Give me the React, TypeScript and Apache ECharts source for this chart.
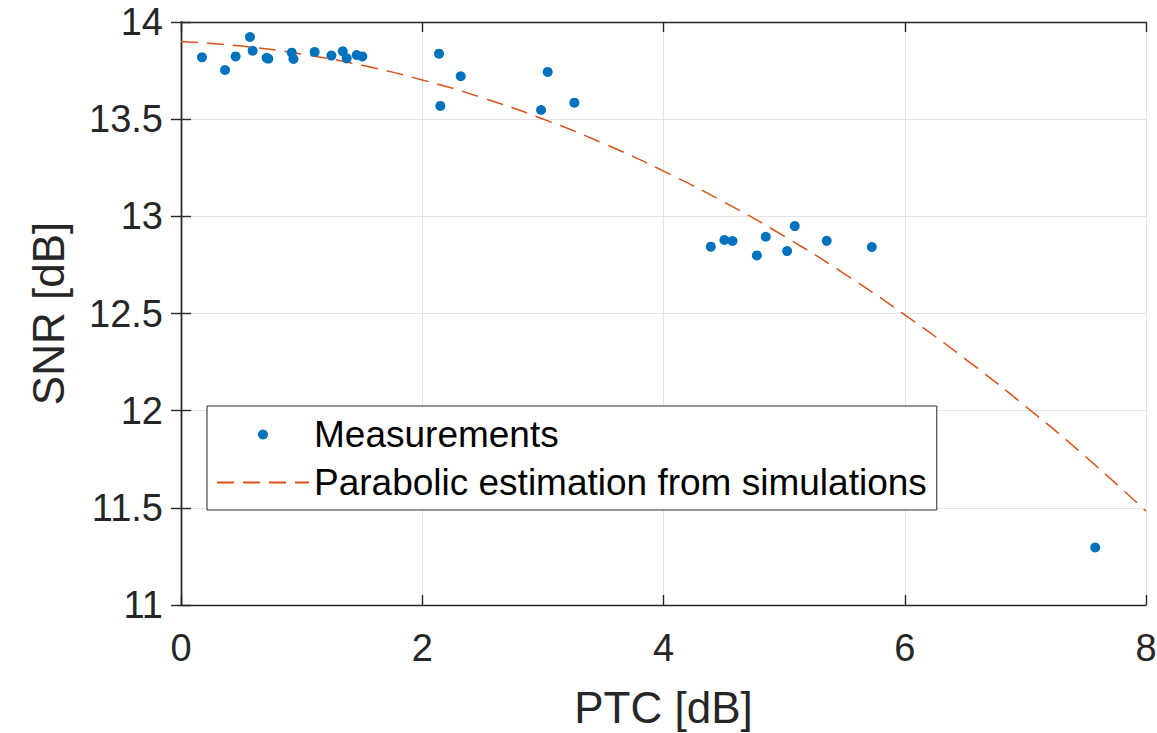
import React, { useEffect, useRef } from "react";
import * as echarts from "echarts";

// Measurements: PTC [dB] and SNR [dB]
const measPTC = [
  0.174, 0.365, 0.453, 0.572, 0.594, 0.71, 0.724, 0.918, 0.932, 1.108, 1.247, 1.341,
  1.374, 1.457, 1.503, 2.139, 2.15, 2.319, 2.985, 3.04, 3.261, 4.392, 4.505, 4.572,
  4.774, 4.848, 5.025, 5.088, 5.353, 5.727, 7.579,
];
const measSNR = [
  13.818, 13.753, 13.823, 13.923, 13.852, 13.816, 13.811, 13.842, 13.81, 13.846, 13.827, 13.849,
  13.813, 13.83, 13.823, 13.837, 13.568, 13.721, 13.547, 13.743, 13.585, 12.844, 12.878, 12.873,
  12.799, 12.895, 12.821, 12.95, 12.874, 12.842, 11.296,
];

// Parabolic estimation
const estPTC = [0, 0.5, 1, 1.5, 2, 2.5, 3, 3.5, 4, 4.5, 5, 5.5, 6, 6.5, 7, 7.5, 8];
const estSNR = [
  13.9, 13.876, 13.835, 13.777, 13.702, 13.61, 13.501, 13.376, 13.233, 13.074, 12.898,
  12.704, 12.493, 12.267, 12.023, 11.763, 11.483,
];

const xTicks = [0, 2, 4, 6, 8];
const yTicks = [11, 11.5, 12, 12.5, 13, 13.5, 14];

const FONT = "'Liberation Sans', Arial, Helvetica, sans-serif";
const AX = "#262626";
const GRID = "#e3e3e3";

export default function App() {
  const ref = useRef<HTMLDivElement>(null);
  useEffect(() => {
    if (!ref.current) return;
    const chart = echarts.init(ref.current, null, { renderer: "svg" });
    const axisCommon = {
      axisLine: { show: true, lineStyle: { color: AX, width: 1.4 } },
      axisTick: { show: true, inside: true, length: 10, lineStyle: { color: AX, width: 1.4 } },
    };
    chart.setOption({
      animation: false,
      backgroundColor: "#ffffff",
      textStyle: { fontFamily: FONT },
      grid: {
        left: 181,
        top: 22,
        right: 11,
        bottom: 128,
        containLabel: false,
        outerBoundsMode: "none",
      },
      legend: {
        orient: "vertical",
        left: 207,
        top: 406,
        itemWidth: 92,
        itemHeight: 10,
        itemGap: 11,
        padding: [10, 10, 9, 9],
        borderColor: AX,
        borderWidth: 1,
        backgroundColor: "#ffffff",
        textStyle: { fontFamily: FONT, fontSize: 37, color: "#000000" },
        data: [
          { name: "Measurements", icon: "circle", itemStyle: { color: "#0072BD", opacity: 1 } },
          { name: "Parabolic estimation from simulations", itemStyle: { opacity: 0 } },
        ],
      },
      xAxis: [
        {
          type: "value",
          min: 0,
          max: 8,
          interval: 2,
          position: "bottom",
          name: "PTC [dB]",
          nameLocation: "middle",
          nameGap: 80,
          nameTextStyle: { fontFamily: FONT, fontSize: 44, color: AX },
          axisLabel: {
            fontFamily: FONT,
            fontSize: 38,
            color: AX,
            margin: 24,
            formatter: (v: number) => (xTicks.includes(v) ? String(v) : ""),
          },
          splitLine: { show: true, lineStyle: { color: GRID, width: 1 } },
          ...axisCommon,
        },
        {
          type: "value",
          min: 0,
          max: 8,
          interval: 2,
          position: "top",
          axisLabel: { show: false },
          splitLine: { show: false },
          ...axisCommon,
        },
      ],
      yAxis: [
        {
          type: "value",
          min: 11,
          max: 14,
          interval: 0.5,
          position: "left",
          name: "SNR [dB]",
          nameLocation: "middle",
          nameGap: 111,
          nameTextStyle: { fontFamily: FONT, fontSize: 44, color: AX },
          axisLabel: {
            fontFamily: FONT,
            fontSize: 38,
            color: AX,
            margin: 18,
            formatter: (v: number) => (yTicks.includes(v) ? String(v) : ""),
          },
          splitLine: { show: true, lineStyle: { color: GRID, width: 1 } },
          ...axisCommon,
        },
        {
          type: "value",
          min: 11,
          max: 14,
          interval: 0.5,
          position: "right",
          axisLabel: { show: false },
          splitLine: { show: false },
          ...axisCommon,
        },
      ],
      series: [
        {
          name: "Measurements",
          type: "scatter",
          symbol: "circle",
          symbolSize: 10,
          itemStyle: { color: "#0072BD", opacity: 1 },
          data: measPTC.map((x, i) => [x, measSNR[i]]),
          z: 3,
        },
        {
          name: "Parabolic estimation from simulations",
          type: "line",
          smooth: true,
          symbol: "none",
          showSymbol: false,
          lineStyle: { color: "#D95319", width: 1.5, type: [17, 9] },
          itemStyle: { color: "#D95319" },
          data: estPTC.map((x, i) => [x, estSNR[i]]),
          z: 2,
        },
      ],
    });
    return () => chart.dispose();
  }, []);
  return (
    <div
      ref={ref}
      style={{ position: "fixed", left: 0, top: 0, width: 1157, height: 733, background: "#fff" }}
    />
  );
}
